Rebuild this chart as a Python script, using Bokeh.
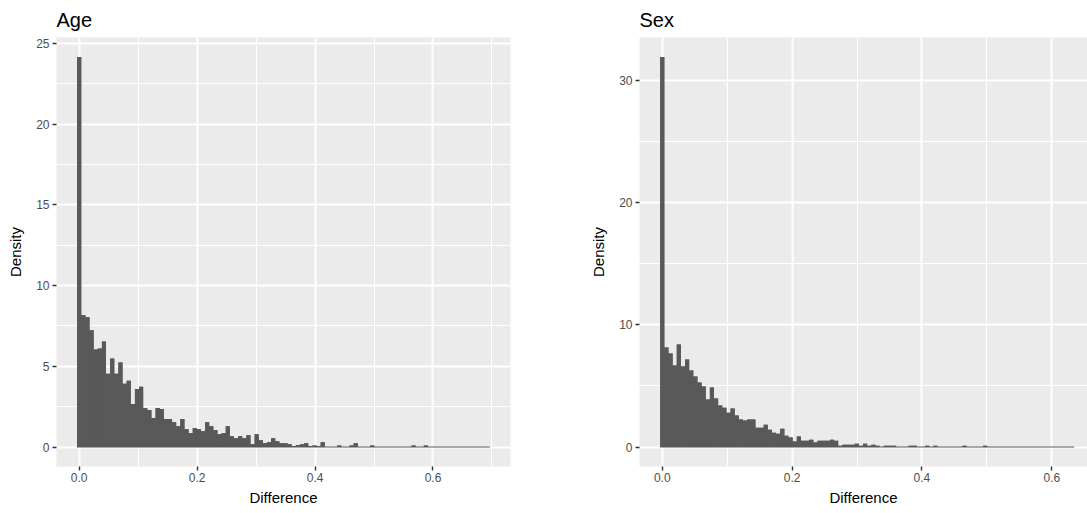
from bokeh.plotting import figure
from bokeh.layouts import row
from bokeh.models import Range1d, FixedTicker, PrintfTickFormatter
from bokeh.embed import file_html
from bokeh.resources import INLINE

# ---------------- data (densities of 100 histogram bins) ----------------
age_binwidth = 0.0070
age_density = [
    24.16, 8.17, 8.04, 7.23, 6.04, 6.10, 6.54, 4.54, 5.48, 4.54,
    5.23, 3.92, 4.10, 2.67, 3.60, 3.73, 2.42, 2.29, 1.79, 2.42,
    2.35, 1.73, 1.73, 1.54, 1.29, 1.73, 1.10, 0.85, 1.17, 1.10,
    0.98, 1.54, 1.29, 1.04, 0.79, 0.85, 1.29, 0.67, 0.54, 0.67,
    0.54, 0.73, 0.17, 0.79, 0.42, 0.23, 0.29, 0.54, 0.35, 0.23,
    0.23, 0.17, 0.06, 0.12, 0.17, 0.23, 0.06, 0.10, 0.04, 0.29,
    0.00, 0.00, 0.00, 0.10, 0.00, 0.00, 0.10, 0.23, 0.00, 0.00,
    0.00, 0.10, 0.00, 0.00, 0.00, 0.00, 0.00, 0.00, 0.00, 0.00,
    0.00, 0.10, 0.00, 0.00, 0.10, 0.00, 0.00, 0.00, 0.00, 0.00,
    0.00, 0.00, 0.00, 0.00, 0.00, 0.00, 0.00, 0.00, 0.00, 0.00,
]

sex_binwidth = 0.006376
sex_density = [
    31.90, 8.14, 7.65, 6.67, 8.39, 6.58, 7.16, 6.26, 5.77, 5.27,
    4.95, 3.88, 4.86, 3.96, 3.39, 3.22, 2.81, 3.14, 2.57, 2.24,
    2.16, 2.24, 2.24, 1.58, 1.58, 1.83, 1.42, 1.17, 1.09, 1.50,
    0.93, 0.77, 0.44, 0.85, 0.52, 0.52, 0.60, 0.36, 0.52, 0.52,
    0.52, 0.60, 0.52, 0.11, 0.19, 0.19, 0.19, 0.27, 0.11, 0.27,
    0.11, 0.19, 0.11, 0.00, 0.11, 0.11, 0.11, 0.00, 0.00, 0.00,
    0.11, 0.11, 0.00, 0.00, 0.11, 0.00, 0.11, 0.00, 0.00, 0.00,
    0.00, 0.00, 0.00, 0.11, 0.00, 0.00, 0.00, 0.00, 0.11, 0.00,
    0.00, 0.00, 0.00, 0.00, 0.00, 0.00, 0.00, 0.00, 0.00, 0.00,
    0.00, 0.00, 0.00, 0.00, 0.00, 0.00, 0.00, 0.00, 0.00, 0.00,
]

x_major = [0.0, 0.2, 0.4, 0.6]
x_minor = [0.1, 0.3, 0.5, 0.7]
age_y_major = [0, 5, 10, 15, 20, 25]
age_y_minor = [2.5, 7.5, 12.5, 17.5, 22.5]
sex_y_major = [0, 10, 20, 30]
sex_y_minor = [5, 15, 25]

FONT = "Liberation Sans"
BAR = "#595959"


def make_panel(title, dens, bw, y_major, y_minor, width, mbl, mbr, x_end=None):
    n = len(dens)
    centers = [k * bw for k in range(n)]
    lefts = [c - bw / 2 for c in centers]
    rights = [c + bw / 2 for c in centers]
    lo, hi = lefts[0], rights[-1]
    span = hi - lo
    xs = lo - 0.05 * span
    xe = hi + 0.05 * span if x_end is None else x_end
    m = max(dens)

    p = figure(width=width, height=513, output_backend="svg", toolbar_location=None,
               x_range=Range1d(xs, xe), y_range=Range1d(-0.05 * m, 1.05 * m),
               min_border_left=mbl, min_border_right=mbr,
               min_border_top=37, min_border_bottom=47,
               background_fill_color="#EBEBEB", border_fill_color="white",
               outline_line_color=None, title=title)

    p.title.text_font = FONT
    p.title.text_font_size = "20px"
    p.title.text_font_style = "normal"
    p.title.text_color = "black"
    p.title.align = "left"
    p.title.standoff = 13

    # seamless under-fill of the same bins, then the bars themselves
    p.line([lo, hi], [0, 0], line_color=BAR, line_width=1.1)
    p.varea_step(x=lefts + [hi], y1=[0] * (n + 1), y2=dens + [dens[-1]],
                 step_mode="after", fill_color=BAR)
    p.quad(left=lefts, right=rights, bottom=0, top=dens,
           fill_color=BAR, line_color=None)

    p.xaxis.ticker = FixedTicker(ticks=x_major, minor_ticks=x_minor)
    p.yaxis.ticker = FixedTicker(ticks=y_major, minor_ticks=y_minor)
    p.xaxis.formatter = PrintfTickFormatter(format="%.1f")

    for g in (p.xgrid, p.ygrid):
        g.grid_line_color = "white"
        g.grid_line_width = 2
        g.minor_grid_line_color = "white"
        g.minor_grid_line_width = 1

    for ax in (p.xaxis, p.yaxis):
        ax.axis_line_color = None
        ax.major_tick_line_color = "#333333"
        ax.major_tick_line_width = 1.4
        ax.major_tick_in = 0
        ax.major_tick_out = 4
        ax.minor_tick_line_color = None
        ax.major_label_text_font = FONT
        ax.major_label_text_font_size = "12px"
        ax.major_label_text_color = "#4D4D4D"
        ax.axis_label_text_font = FONT
        ax.axis_label_text_font_size = "15px"
        ax.axis_label_text_font_style = "normal"
        ax.axis_label_text_color = "black"

    p.xaxis.axis_label = "Difference"
    p.yaxis.axis_label = "Density"
    p.xaxis.major_label_standoff = 2
    p.xaxis.axis_label_standoff = 4
    p.yaxis.major_label_standoff = 3
    p.yaxis.axis_label_standoff = 9
    return p


p1 = make_panel("Age", age_density, age_binwidth, age_y_major, age_y_minor,
                width=580, mbl=56, mbr=70)
p2 = make_panel("Sex", sex_density, sex_binwidth, sex_y_major, sex_y_minor,
                width=507, mbl=59, mbr=0, x_end=0.655)

layout = row(p1, p2)
open("out.html", "w").write(file_html(layout, INLINE))
